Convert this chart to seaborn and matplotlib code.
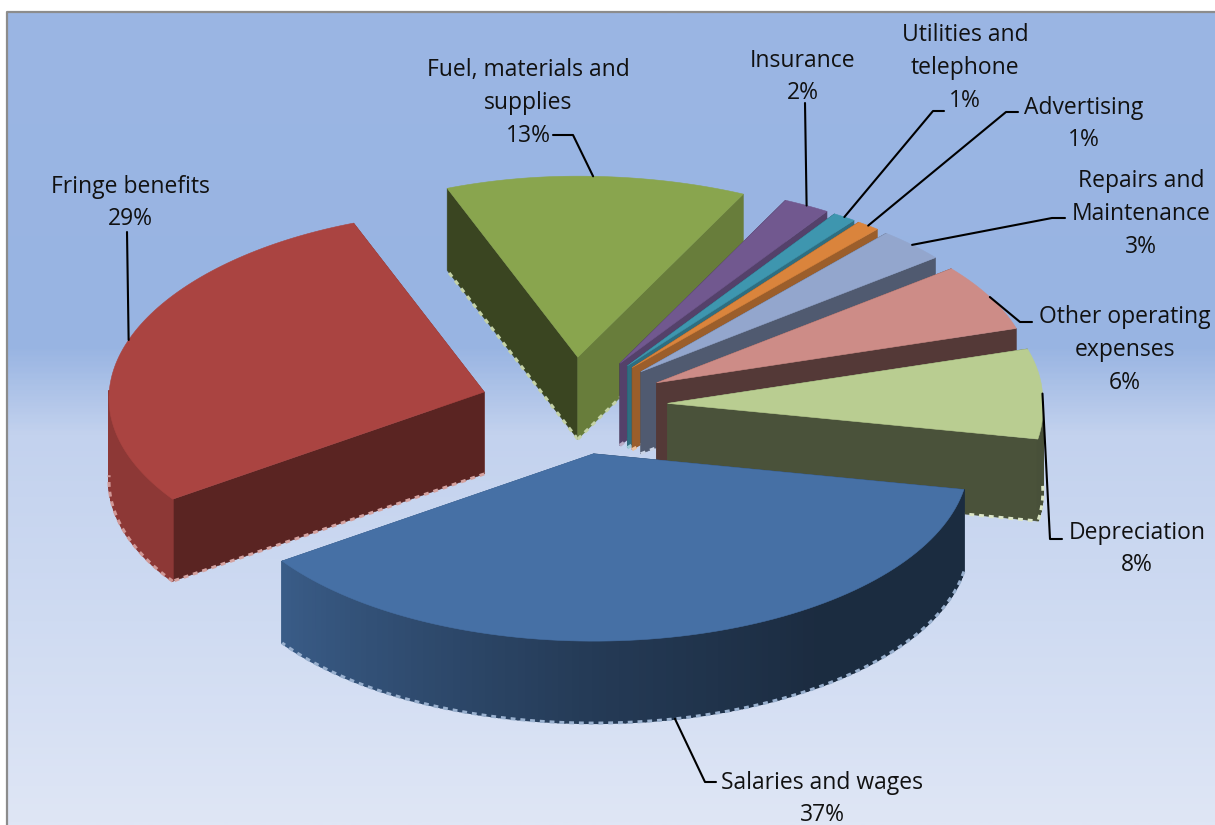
import numpy as np
import matplotlib
matplotlib.use("Agg")
import matplotlib.pyplot as plt
from matplotlib.colors import LinearSegmentedColormap
import seaborn as sns

# Operating expense shares, in percent, clockwise from the front-right edge
categories = ["Salaries and wages", "Fringe benefits", "Fuel, materials and\nsupplies",
              "Insurance", "Utilities and\ntelephone", "Advertising",
              "Repairs and\nMaintenance", "Other operating\nexpenses", "Depreciation"]
shares = [37, 29, 13, 2, 1, 1, 3, 6, 8]

top_colors = sns.color_palette(["#4670A5", "#AA4441", "#89A54E", "#71588F", "#3E96AF",
                                "#DA843C", "#93A6CD", "#CD8C87", "#B9CD91"])

# Pie geometry in figure pixels
CX, CY = 574, 406
RX, RY = 375, 181
DEPTH = 82
EXPLODE_X = 0.25
EXPLODE_Y = 0.27
START_ANGLE = 11.3
NEAR_SCALE = 0.035
FAR_RIGHT_SCALE = 0.02

sns.set_theme(style="white")
plt.rcParams["font.family"] = ["Open Sans", "DejaVu Sans"]

fig = plt.figure(figsize=(12.15, 8.25), dpi=100, facecolor="white")
ax = fig.add_axes([0, 0, 1, 1])
ax.set_xlim(0, 1215)
ax.set_ylim(825, 0)
ax.axis("off")

# Chart area backdrop
stops = [(0.0, "#9BB6E4"), (0.41, "#98B4E2"), (0.52, "#C3D2EE"),
         (0.75, "#CFDBF2"), (1.0, "#DFE6F5")]
backdrop = LinearSegmentedColormap.from_list("backdrop", stops)
ax.imshow(np.linspace(0, 1, 400)[:, None], cmap=backdrop, aspect="auto",
          extent=(7, 1215, 825, 12), zorder=0)
ax.set_xlim(0, 1215)
ax.set_ylim(825, 0)
ax.plot([7, 7, 1215], [825, 12, 12], color="#8C8C8C", lw=1.6, zorder=1)


def shade(color, factor):
    return tuple(np.clip(np.array(color) * factor, 0, 1))


def tint(color, amount):
    c = np.array(color)
    return tuple(c + (1 - c) * amount)


def face_factor(angle, is_end):
    a = angle % 360
    if is_end:
        a = a + 360 if a < 100 else a
        return np.interp(a, [295, 309, 320, 342, 372], [0.76, 0.73, 0.55, 0.41, 0.40])
    return np.interp(a, [146, 250], [0.53, 0.42])


def wall_factor(angle):
    return np.interp(angle % 360, [0, 55, 90, 110, 146, 250], [0.39, 0.39, 0.52, 0.63, 0.83, 0.83])


def rim(apex, angle):
    t = np.radians(angle)
    s, c = np.sin(t), np.cos(t)
    if s < 0 and c > 0:
        x_scale = 1 - FAR_RIGHT_SCALE * s
    else:
        x_scale = 1 + NEAR_SCALE * s
    x = RX * c * x_scale
    y = RY * s * (1 + NEAR_SCALE * max(s, 0))
    return np.array([apex[0] + x, apex[1] + y])


spans = np.array(shares) / sum(shares) * 360
starts = START_ANGLE + np.concatenate([[0], np.cumsum(spans)[:-1]])
ends = starts + spans
mids = (starts + ends) / 2
apexes = [(CX + EXPLODE_X * RX * np.cos(np.radians(m)), CY + EXPLODE_Y * RY * np.sin(np.radians(m)))
          for m in mids]

# Paint slices from the back of the pie to the front
z = 10
for i in sorted(range(len(shares)), key=lambda k: np.sin(np.radians(mids[k]))):
    apex, color = apexes[i], top_colors[i]
    a0, a1 = starts[i], ends[i]

    faces = sorted(((a0, False), (a1, True)), key=lambda f: np.sin(np.radians(f[0])))
    for angle, is_end in faces:
        p = rim(apex, angle)
        xs = [apex[0], p[0], p[0], apex[0]]
        ys = [apex[1], p[1], p[1] + DEPTH, apex[1] + DEPTH]
        ax.fill(xs, ys, color=shade(color, face_factor(angle, is_end)), lw=0.4, zorder=z)
        z += 1
        ax.plot([apex[0], p[0]], [apex[1] + DEPTH, p[1] + DEPTH], color=tint(color, 0.5),
                lw=2.2, dashes=(1.6, 1.6), zorder=z)
        z += 1

    # Curved outer wall, only the part facing the viewer
    steps = np.append(np.arange(a0, a1, 1.0), a1)
    for b0, b1 in zip(steps[:-1], steps[1:]):
        if np.sin(np.radians((b0 + b1) / 2)) <= 0:
            continue
        p0, p1 = rim(apex, b0), rim(apex, b1)
        ax.fill([p0[0], p1[0], p1[0], p0[0]],
                [p0[1], p1[1], p1[1] + DEPTH, p0[1] + DEPTH],
                color=shade(color, wall_factor((b0 + b1) / 2)), lw=1.4, zorder=z)
    z += 1
    wall = [a for a in np.linspace(a0, a1, 120) if np.sin(np.radians(a)) > 0]
    if wall:
        low = np.array([rim(apex, a) for a in wall])
        ax.plot(low[:, 0], low[:, 1] + DEPTH, color=tint(color, 0.45),
                lw=2.2, dashes=(1.6, 1.6), zorder=z)
        z += 1

    # Flat top surface
    arc = np.array([rim(apex, a) for a in np.linspace(a0, a1, 90)])
    ax.fill(np.r_[apex[0], arc[:, 0]], np.r_[apex[1], arc[:, 1]], color=color, lw=0.4, zorder=z)
    z += 1

# Label placement: centre of the text block and the elbow of its leader line
label_centers = [(822, 799), (130, 203), (528, 103), (803, 77), (965, 68),
                 (1084, 124), (1141, 214), (1125, 350), (1137, 549)]
elbows = [[(716, 782), (705, 782)], [(127, 232)], [(553, 135), (573, 135)],
          [(805, 103)], [(944, 111), (933, 111)], [(1018, 112), (1006, 112)],
          [(1065, 218), (1052, 218)], [(1032, 322), (1020, 322)], [(1062, 539), (1050, 539)]]

for i, name in enumerate(categories):
    ax.text(label_centers[i][0], label_centers[i][1], f"{name}\n{shares[i]}%",
            ha="center", va="center", fontsize=16.5, linespacing=1.48,
            color="#111111", zorder=300)
    anchor = rim(apexes[i], mids[i])
    if np.sin(np.radians(mids[i])) > 0:
        anchor[1] += DEPTH
    path = np.array(list(elbows[i]) + [tuple(anchor)])
    ax.plot(path[:, 0], path[:, 1], color="black", lw=1.5, zorder=299)

fig.savefig("out.png", dpi=100)
